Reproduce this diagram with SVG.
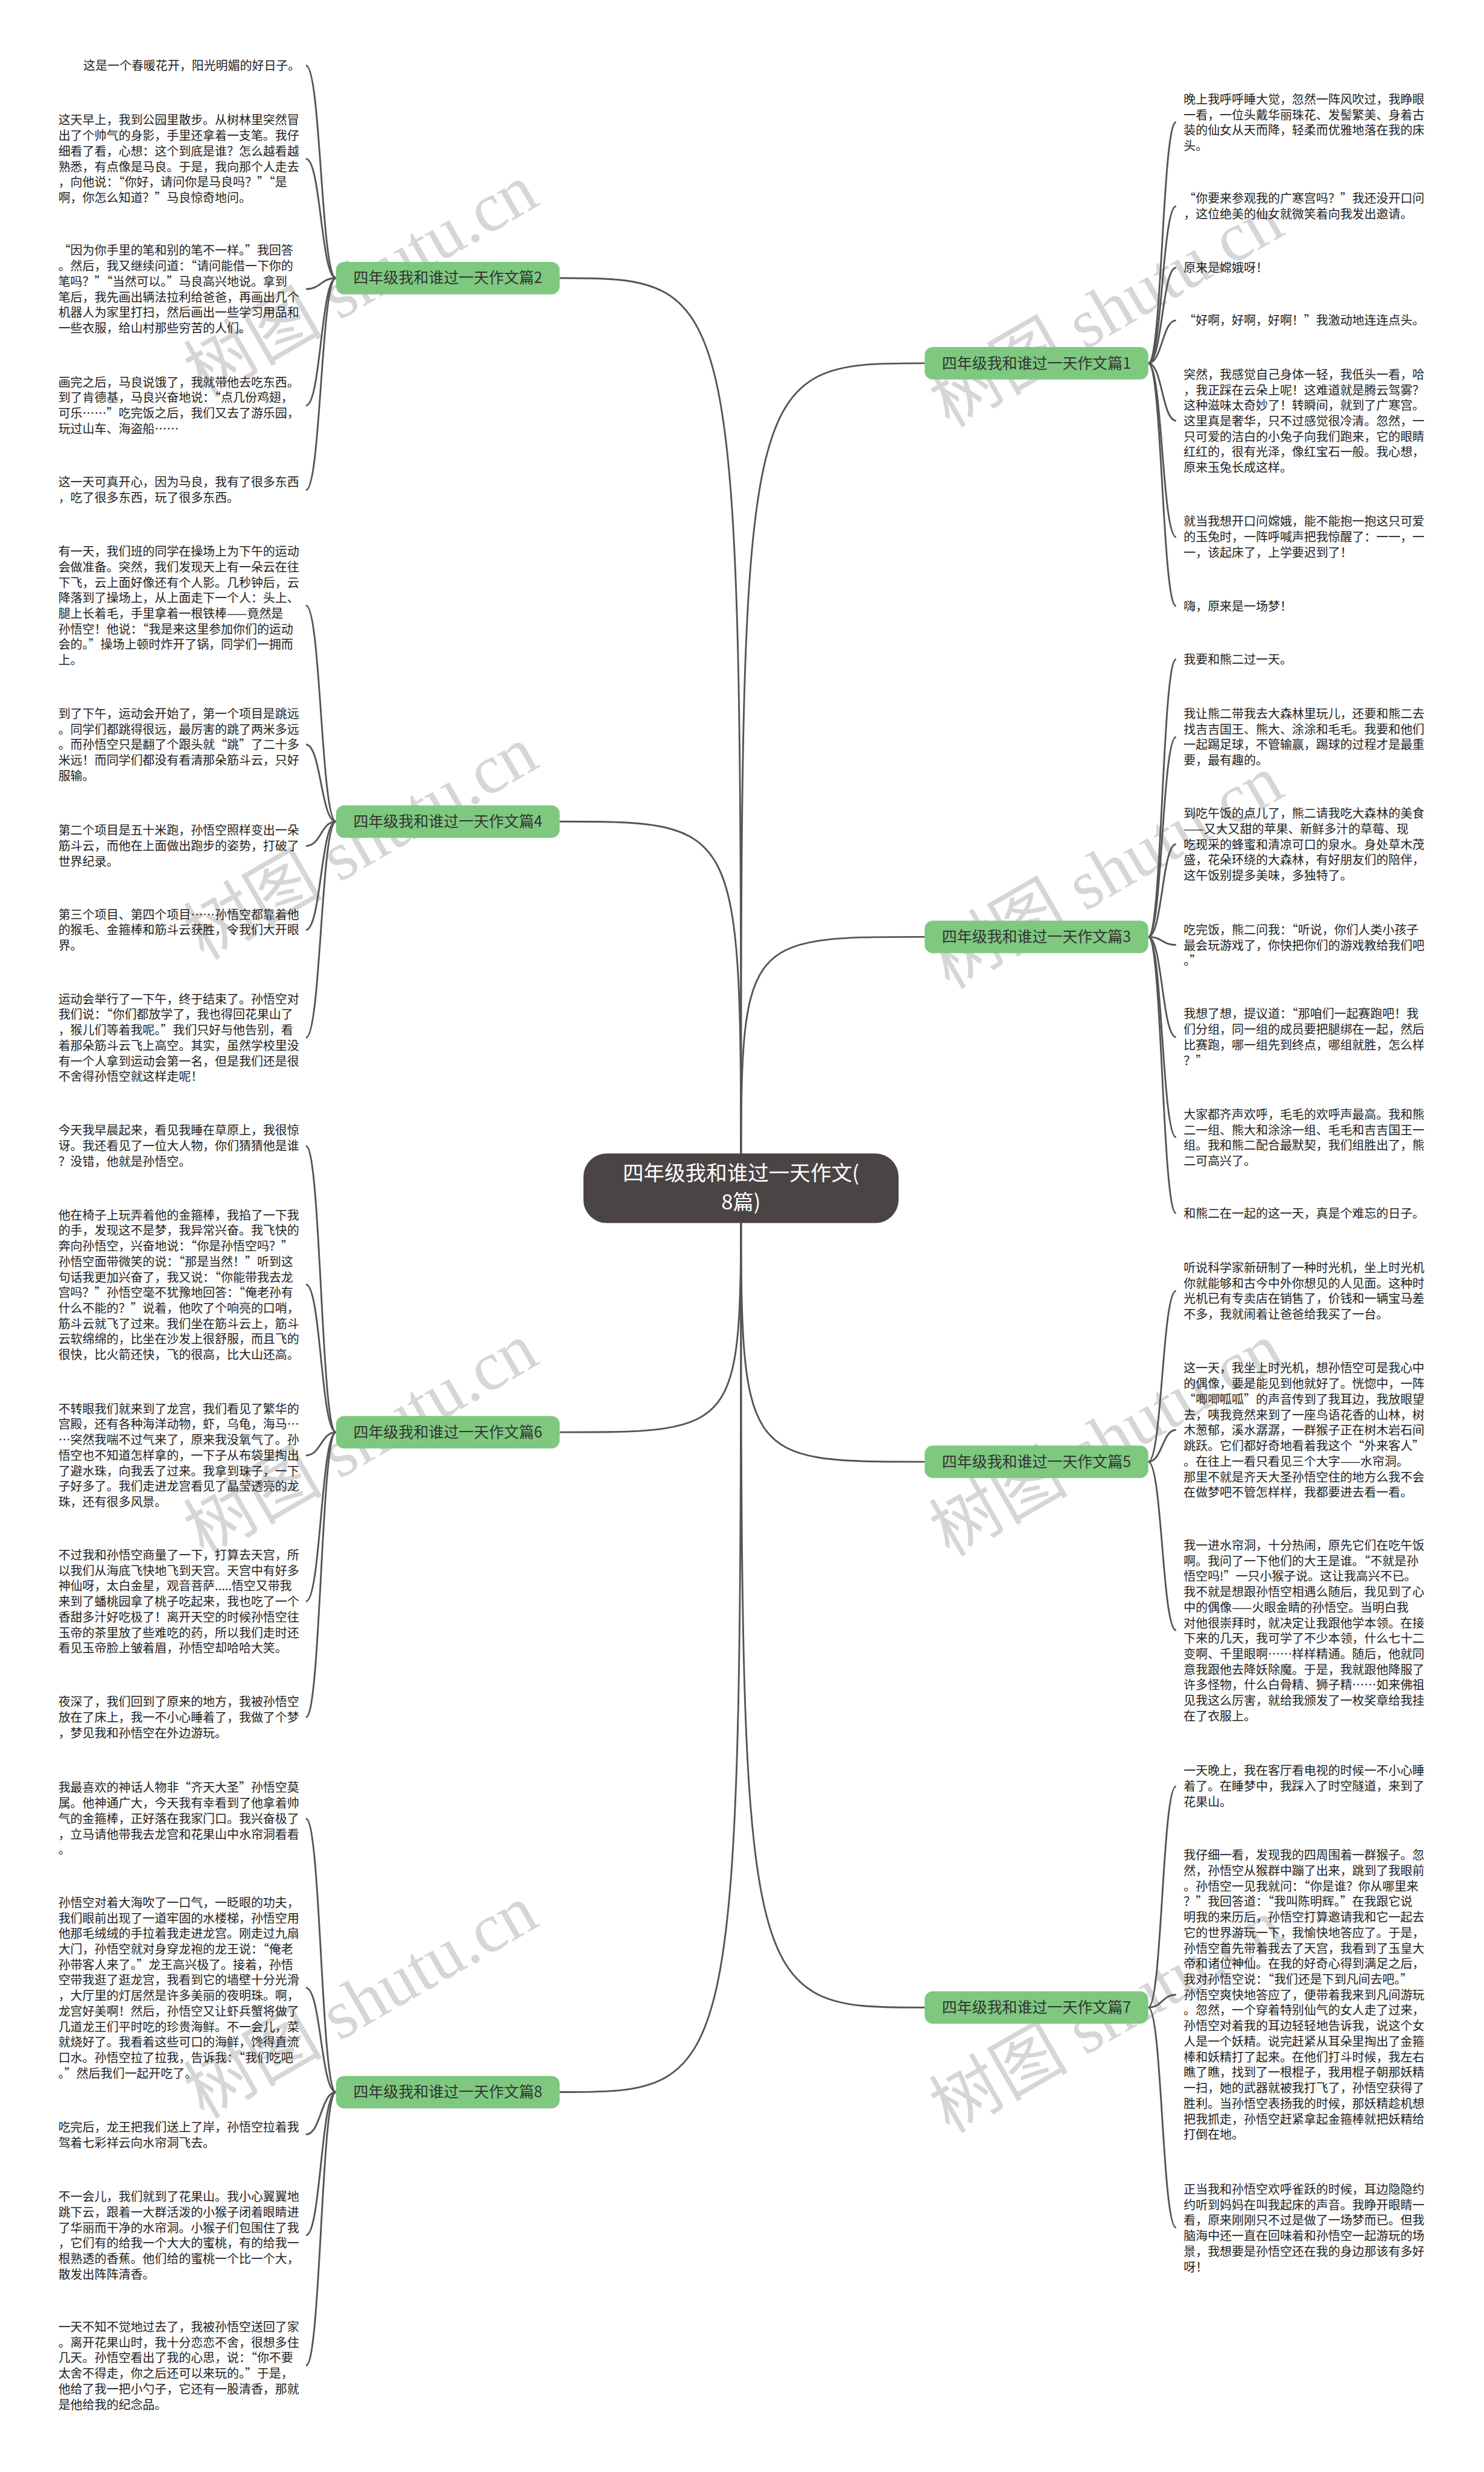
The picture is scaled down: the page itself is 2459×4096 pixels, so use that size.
<svg xmlns="http://www.w3.org/2000/svg" width="2459" height="4096" viewBox="0 0 2459 4096">
<style>
.t{font-family:"Noto Sans CJK SC","Noto Sans",sans-serif;font-size:20.8px;fill:#222}
.c{fill:none;stroke:#555;stroke-width:3}
.nr{fill:#7ec880}
.nt{font-family:"Noto Sans CJK SC","Noto Sans",sans-serif;font-size:26px;fill:#333;text-anchor:middle}
.wm{font-family:"Liberation Serif","Noto Sans CJK SC",serif;font-size:120px;fill:#d6d6d6;text-anchor:middle}
</style>
<rect width="2459" height="4096" fill="#ffffff"/>
<g transform="scale(0.96)">
<g id="watermarks">
<text class="wm" transform="translate(643,520) rotate(-30)">树图 shutu.cn</text>
<text class="wm" transform="translate(643,1490) rotate(-30)">树图 shutu.cn</text>
<text class="wm" transform="translate(643,2520) rotate(-30)">树图 shutu.cn</text>
<text class="wm" transform="translate(643,3490) rotate(-30)">树图 shutu.cn</text>
<text class="wm" transform="translate(1930,571) rotate(-30)">树图 shutu.cn</text>
<text class="wm" transform="translate(1930,1540) rotate(-30)">树图 shutu.cn</text>
<text class="wm" transform="translate(1930,2520) rotate(-30)">树图 shutu.cn</text>
<text class="wm" transform="translate(1930,3515) rotate(-30)">树图 shutu.cn</text>
</g>
<g id="connectors">
<path class="c" d="M966,480 C1279,480 1279,480 1279,2051"/>
<path class="c" d="M966,1418 C1279,1418 1279,1418 1279,2051"/>
<path class="c" d="M966,2472 C1279,2472 1279,2472 1279,2051"/>
<path class="c" d="M966,3611 C1279,3611 1279,3611 1279,2051"/>
<path class="c" d="M1596,627 C1279,627 1279,627 1279,2051"/>
<path class="c" d="M1596,1617 C1279,1617 1279,1617 1279,2051"/>
<path class="c" d="M1596,2523 C1279,2523 1279,2523 1279,2051"/>
<path class="c" d="M1596,3465 C1279,3465 1279,3465 1279,2051"/>
<path class="c" d="M580,480 C554,480 554,113 528,113"/>
<path class="c" d="M580,480 C554,480 554,274 528,274"/>
<path class="c" d="M580,480 C554,480 554,499 528,499"/>
<path class="c" d="M580,480 C554,480 554,700 528,700"/>
<path class="c" d="M580,480 C554,480 554,846 528,846"/>
<path class="c" d="M580,1418 C554,1418 554,1045 528,1045"/>
<path class="c" d="M580,1418 C554,1418 554,1285 528,1285"/>
<path class="c" d="M580,1418 C554,1418 554,1460 528,1460"/>
<path class="c" d="M580,1418 C554,1418 554,1605 528,1605"/>
<path class="c" d="M580,1418 C554,1418 554,1791 528,1791"/>
<path class="c" d="M580,2472 C554,2472 554,1978 528,1978"/>
<path class="c" d="M580,2472 C554,2472 554,2217 528,2217"/>
<path class="c" d="M580,2472 C554,2472 554,2512 528,2512"/>
<path class="c" d="M580,2472 C554,2472 554,2764 528,2764"/>
<path class="c" d="M580,2472 C554,2472 554,2964 528,2964"/>
<path class="c" d="M580,3611 C554,3611 554,3139 528,3139"/>
<path class="c" d="M580,3611 C554,3611 554,3431 528,3431"/>
<path class="c" d="M580,3611 C554,3611 554,3684 528,3684"/>
<path class="c" d="M580,3611 C554,3611 554,3858 528,3858"/>
<path class="c" d="M580,3611 C554,3611 554,4083 528,4083"/>
<path class="c" d="M1982,627 C2006,627 2006,211 2030,211"/>
<path class="c" d="M1982,627 C2006,627 2006,356 2030,356"/>
<path class="c" d="M1982,627 C2006,627 2006,462 2030,462"/>
<path class="c" d="M1982,627 C2006,627 2006,553 2030,553"/>
<path class="c" d="M1982,627 C2006,627 2006,726 2030,726"/>
<path class="c" d="M1982,627 C2006,627 2006,927 2030,927"/>
<path class="c" d="M1982,627 C2006,627 2006,1046 2030,1046"/>
<path class="c" d="M1982,1617 C2006,1617 2006,1138 2030,1138"/>
<path class="c" d="M1982,1617 C2006,1617 2006,1272 2030,1272"/>
<path class="c" d="M1982,1617 C2006,1617 2006,1457 2030,1457"/>
<path class="c" d="M1982,1617 C2006,1617 2006,1631 2030,1631"/>
<path class="c" d="M1982,1617 C2006,1617 2006,1790 2030,1790"/>
<path class="c" d="M1982,1617 C2006,1617 2006,1963 2030,1963"/>
<path class="c" d="M1982,1617 C2006,1617 2006,2094 2030,2094"/>
<path class="c" d="M1982,2523 C2006,2523 2006,2228 2030,2228"/>
<path class="c" d="M1982,2523 C2006,2523 2006,2468 2030,2468"/>
<path class="c" d="M1982,2523 C2006,2523 2006,2814 2030,2814"/>
<path class="c" d="M1982,3465 C2006,3465 2006,3083 2030,3083"/>
<path class="c" d="M1982,3465 C2006,3465 2006,3443 2030,3443"/>
<path class="c" d="M1982,3465 C2006,3465 2006,3845 2030,3845"/>
</g>
<g id="center">
<rect x="1007" y="1991" width="544" height="120" rx="40" fill="#4a4544"/>
<text x="1279" y="2038" font-family="Noto Sans CJK SC, sans-serif" font-size="36" fill="#fff" text-anchor="middle">四年级我和谁过一天作文(</text>
<text x="1279" y="2087" font-family="Noto Sans CJK SC, sans-serif" font-size="36" fill="#fff" text-anchor="middle">8篇)</text>
</g>
<g id="node-p2"><rect class="nr" x="580" y="452" width="386" height="56" rx="14"/><text class="nt" x="773" y="489">四年级我和谁过一天作文篇2</text></g>
<g id="node-p4"><rect class="nr" x="580" y="1390" width="386" height="56" rx="14"/><text class="nt" x="773" y="1427">四年级我和谁过一天作文篇4</text></g>
<g id="node-p6"><rect class="nr" x="580" y="2444" width="386" height="56" rx="14"/><text class="nt" x="773" y="2481">四年级我和谁过一天作文篇6</text></g>
<g id="node-p8"><rect class="nr" x="580" y="3583" width="386" height="56" rx="14"/><text class="nt" x="773" y="3620">四年级我和谁过一天作文篇8</text></g>
<g id="node-p1"><rect class="nr" x="1596" y="599" width="386" height="56" rx="14"/><text class="nt" x="1789" y="636">四年级我和谁过一天作文篇1</text></g>
<g id="node-p3"><rect class="nr" x="1596" y="1589" width="386" height="56" rx="14"/><text class="nt" x="1789" y="1626">四年级我和谁过一天作文篇3</text></g>
<g id="node-p5"><rect class="nr" x="1596" y="2495" width="386" height="56" rx="14"/><text class="nt" x="1789" y="2532">四年级我和谁过一天作文篇5</text></g>
<g id="node-p7"><rect class="nr" x="1596" y="3437" width="386" height="56" rx="14"/><text class="nt" x="1789" y="3474">四年级我和谁过一天作文篇7</text></g>

<g id="left-texts">
<text class="t" x="518" y="121" text-anchor="end">这是一个春暖花开，阳光明媚的好日子。</text>
<text class="t" y="215.1"><tspan x="100.7">这天早上，我到公园里散步。从树林里突然冒</tspan><tspan x="100.7" dy="26.8">出了个帅气的身影，手里还拿着一支笔。我仔</tspan><tspan x="100.7" dy="26.8">细看了看，心想：这个到底是谁？怎么越看越</tspan><tspan x="100.7" dy="26.8">熟悉，有点像是马良。于是，我向那个人走去</tspan><tspan x="100.7" dy="26.8">，向他说：“你好，请问你是马良吗？”“是</tspan><tspan x="100.7" dy="26.8">啊，你怎么知道？”马良惊奇地问。</tspan></text>
<text class="t" y="440.1"><tspan x="100.7">“因为你手里的笔和别的笔不一样。”我回答</tspan><tspan x="100.7" dy="26.8">。然后，我又继续问道：“请问能借一下你的</tspan><tspan x="100.7" dy="26.8">笔吗？”“当然可以。”马良高兴地说。拿到</tspan><tspan x="100.7" dy="26.8">笔后，我先画出辆法拉利给爸爸，再画出几个</tspan><tspan x="100.7" dy="26.8">机器人为家里打扫，然后画出一些学习用品和</tspan><tspan x="100.7" dy="26.8">一些衣服，给山村那些穷苦的人们。</tspan></text>
<text class="t" y="667.3"><tspan x="100.7">画完之后，马良说饿了，我就带他去吃东西。</tspan><tspan x="100.7" dy="26.8">到了肯德基，马良兴奋地说：“点几份鸡翅，</tspan><tspan x="100.7" dy="26.8">可乐……”吃完饭之后，我们又去了游乐园，</tspan><tspan x="100.7" dy="26.8">玩过山车、海盗船……</tspan></text>
<text class="t" y="840.1"><tspan x="100.7">这一天可真开心，因为马良，我有了很多东西</tspan><tspan x="100.7" dy="26.8">，吃了很多东西，玩了很多东西。</tspan></text>
<text class="t" y="959.5"><tspan x="100.7">有一天，我们班的同学在操场上为下午的运动</tspan><tspan x="100.7" dy="26.8">会做准备。突然，我们发现天上有一朵云在往</tspan><tspan x="100.7" dy="26.8">下飞，云上面好像还有个人影。几秒钟后，云</tspan><tspan x="100.7" dy="26.8">降落到了操场上，从上面走下一个人：头上、</tspan><tspan x="100.7" dy="26.8">腿上长着毛，手里拿着一根铁棒——竟然是</tspan><tspan x="100.7" dy="26.8">孙悟空！他说：“我是来这里参加你们的运动</tspan><tspan x="100.7" dy="26.8">会的。”操场上顿时炸开了锅，同学们一拥而</tspan><tspan x="100.7" dy="26.8">上。</tspan></text>
<text class="t" y="1239.6"><tspan x="100.7">到了下午，运动会开始了，第一个项目是跳远</tspan><tspan x="100.7" dy="26.8">。同学们都跳得很远，最厉害的跳了两米多远</tspan><tspan x="100.7" dy="26.8">。而孙悟空只是翻了个跟头就“跳”了二十多</tspan><tspan x="100.7" dy="26.8">米远！而同学们都没有看清那朵筋斗云，只好</tspan><tspan x="100.7" dy="26.8">服输。</tspan></text>
<text class="t" y="1440.7"><tspan x="100.7">第二个项目是五十米跑，孙悟空照样变出一朵</tspan><tspan x="100.7" dy="26.8">筋斗云，而他在上面做出跑步的姿势，打破了</tspan><tspan x="100.7" dy="26.8">世界纪录。</tspan></text>
<text class="t" y="1586"><tspan x="100.7">第三个项目、第四个项目……孙悟空都靠着他</tspan><tspan x="100.7" dy="26.8">的猴毛、金箍棒和筋斗云获胜，令我们大开眼</tspan><tspan x="100.7" dy="26.8">界。</tspan></text>
<text class="t" y="1732"><tspan x="100.7">运动会举行了一下午，终于结束了。孙悟空对</tspan><tspan x="100.7" dy="26.8">我们说：“你们都放学了，我也得回花果山了</tspan><tspan x="100.7" dy="26.8">，猴儿们等着我呢。”我们只好与他告别，看</tspan><tspan x="100.7" dy="26.8">着那朵筋斗云飞上高空。其实，虽然学校里没</tspan><tspan x="100.7" dy="26.8">有一个人拿到运动会第一名，但是我们还是很</tspan><tspan x="100.7" dy="26.8">不舍得孙悟空就这样走呢！</tspan></text>
<text class="t" y="1958.8"><tspan x="100.7">今天我早晨起来，看见我睡在草原上，我很惊</tspan><tspan x="100.7" dy="26.8">讶。我还看见了一位大人物，你们猜猜他是谁</tspan><tspan x="100.7" dy="26.8">？没错，他就是孙悟空。</tspan></text>
<text class="t" y="2104.8"><tspan x="100.7">他在椅子上玩弄着他的金箍棒，我掐了一下我</tspan><tspan x="100.7" dy="26.8">的手，发现这不是梦，我异常兴奋。我飞快的</tspan><tspan x="100.7" dy="26.8">奔向孙悟空，兴奋地说：“你是孙悟空吗？”</tspan><tspan x="100.7" dy="26.8">孙悟空面带微笑的说：“那是当然！”听到这</tspan><tspan x="100.7" dy="26.8">句话我更加兴奋了，我又说：“你能带我去龙</tspan><tspan x="100.7" dy="26.8">宫吗？”孙悟空毫不犹豫地回答：“俺老孙有</tspan><tspan x="100.7" dy="26.8">什么不能的？”说着，他吹了个响亮的口哨，</tspan><tspan x="100.7" dy="26.8">筋斗云就飞了过来。我们坐在筋斗云上，筋斗</tspan><tspan x="100.7" dy="26.8">云软绵绵的，比坐在沙发上很舒服，而且飞的</tspan><tspan x="100.7" dy="26.8">很快，比火箭还快，飞的很高，比大山还高。</tspan></text>
<text class="t" y="2439.2"><tspan x="100.7">不转眼我们就来到了龙宫，我们看见了繁华的</tspan><tspan x="100.7" dy="26.8">宫殿，还有各种海洋动物，虾，乌龟，海马…</tspan><tspan x="100.7" dy="26.8">…突然我喘不过气来了，原来我没氧气了。孙</tspan><tspan x="100.7" dy="26.8">悟空也不知道怎样拿的，一下子从布袋里掏出</tspan><tspan x="100.7" dy="26.8">了避水珠，向我丢了过来。我拿到珠子，一下</tspan><tspan x="100.7" dy="26.8">子好多了。我们走进龙宫看见了晶莹透亮的龙</tspan><tspan x="100.7" dy="26.8">珠，还有很多风景。</tspan></text>
<text class="t" y="2691.7"><tspan x="100.7">不过我和孙悟空商量了一下，打算去天宫，所</tspan><tspan x="100.7" dy="26.8">以我们从海底飞快地飞到天宫。天宫中有好多</tspan><tspan x="100.7" dy="26.8">神仙呀，太白金星，观音菩萨.....悟空又带我</tspan><tspan x="100.7" dy="26.8">来到了蟠桃园拿了桃子吃起来，我也吃了一个</tspan><tspan x="100.7" dy="26.8">香甜多汁好吃极了！离开天空的时候孙悟空往</tspan><tspan x="100.7" dy="26.8">玉帝的茶里放了些难吃的药，所以我们走时还</tspan><tspan x="100.7" dy="26.8">看见玉帝脸上皱着眉，孙悟空却哈哈大笑。</tspan></text>
<text class="t" y="2945"><tspan x="100.7">夜深了，我们回到了原来的地方，我被孙悟空</tspan><tspan x="100.7" dy="26.8">放在了床上，我一不小心睡着了，我做了个梦</tspan><tspan x="100.7" dy="26.8">，梦见我和孙悟空在外边游玩。</tspan></text>
<text class="t" y="3093.2"><tspan x="100.7">我最喜欢的神话人物非“齐天大圣”孙悟空莫</tspan><tspan x="100.7" dy="26.8">属。他神通广大，今天我有幸看到了他拿着帅</tspan><tspan x="100.7" dy="26.8">气的金箍棒，正好落在我家门口。我兴奋极了</tspan><tspan x="100.7" dy="26.8">，立马请他带我去龙宫和花果山中水帘洞看看</tspan><tspan x="100.7" dy="26.8">。</tspan></text>
<text class="t" y="3291.5"><tspan x="100.7">孙悟空对着大海吹了一口气，一眨眼的功夫，</tspan><tspan x="100.7" dy="26.8">我们眼前出现了一道牢固的水楼梯，孙悟空用</tspan><tspan x="100.7" dy="26.8">他那毛绒绒的手拉着我走进龙宫。刚走过九扇</tspan><tspan x="100.7" dy="26.8">大门，孙悟空就对身穿龙袍的龙王说：“俺老</tspan><tspan x="100.7" dy="26.8">孙带客人来了。”龙王高兴极了。接着，孙悟</tspan><tspan x="100.7" dy="26.8">空带我逛了逛龙宫，我看到它的墙壁十分光滑</tspan><tspan x="100.7" dy="26.8">，大厅里的灯居然是许多美丽的夜明珠。啊，</tspan><tspan x="100.7" dy="26.8">龙宫好美啊！然后，孙悟空又让虾兵蟹将做了</tspan><tspan x="100.7" dy="26.8">几道龙王们平时吃的珍贵海鲜。不一会儿，菜</tspan><tspan x="100.7" dy="26.8">就烧好了。我看着这些可口的海鲜，馋得直流</tspan><tspan x="100.7" dy="26.8">口水。孙悟空拉了拉我，告诉我：“我们吃吧</tspan><tspan x="100.7" dy="26.8">。”然后我们一起开吃了。</tspan></text>
<text class="t" y="3679"><tspan x="100.7">吃完后，龙王把我们送上了岸，孙悟空拉着我</tspan><tspan x="100.7" dy="26.8">驾着七彩祥云向水帘洞飞去。</tspan></text>
<text class="t" y="3799.2"><tspan x="100.7">不一会儿，我们就到了花果山。我小心翼翼地</tspan><tspan x="100.7" dy="26.8">跳下云，跟着一大群活泼的小猴子闭着眼睛进</tspan><tspan x="100.7" dy="26.8">了华丽而干净的水帘洞。小猴子们包围住了我</tspan><tspan x="100.7" dy="26.8">，它们有的给我一个大大的蜜桃，有的给我一</tspan><tspan x="100.7" dy="26.8">根熟透的香蕉。他们给的蜜桃一个比一个大，</tspan><tspan x="100.7" dy="26.8">散发出阵阵清香。</tspan></text>
<text class="t" y="4024"><tspan x="100.7">一天不知不觉地过去了，我被孙悟空送回了家</tspan><tspan x="100.7" dy="26.8">。离开花果山时，我十分恋恋不舍，很想多住</tspan><tspan x="100.7" dy="26.8">几天。孙悟空看出了我的心思，说：“你不要</tspan><tspan x="100.7" dy="26.8">太舍不得走，你之后还可以来玩的。”于是，</tspan><tspan x="100.7" dy="26.8">他给了我一把小勺子，它还有一股清香，那就</tspan><tspan x="100.7" dy="26.8">是他给我的纪念品。</tspan></text>
</g>

<g id="right-texts">
<text class="t" y="179.2"><tspan x="2043">晚上我呼呼睡大觉，忽然一阵风吹过，我睁眼</tspan><tspan x="2043" dy="26.8">一看，一位头戴华丽珠花、发髻繁美、身着古</tspan><tspan x="2043" dy="26.8">装的仙女从天而降，轻柔而优雅地落在我的床</tspan><tspan x="2043" dy="26.8">头。</tspan></text>
<text class="t" y="350.5"><tspan x="2043">“你要来参观我的广寒宫吗？”我还没开口问</tspan><tspan x="2043" dy="26.8">，这位绝美的仙女就微笑着向我发出邀请。</tspan></text>
<text class="t" x="2043" y="469.7">原来是嫦娥呀！</text>
<text class="t" x="2043" y="560.8">“好啊，好啊，好啊！”我激动地连连点头。</text>
<text class="t" y="654"><tspan x="2043">突然，我感觉自己身体一轻，我低头一看，哈</tspan><tspan x="2043" dy="26.8">，我正踩在云朵上呢！这难道就是腾云驾雾？</tspan><tspan x="2043" dy="26.8">这种滋味太奇妙了！转瞬间，就到了广寒宫。</tspan><tspan x="2043" dy="26.8">这里真是奢华，只不过感觉很冷清。忽然，一</tspan><tspan x="2043" dy="26.8">只可爱的洁白的小兔子向我们跑来，它的眼睛</tspan><tspan x="2043" dy="26.8">红红的，很有光泽，像红宝石一般。我心想，</tspan><tspan x="2043" dy="26.8">原来玉兔长成这样。</tspan></text>
<text class="t" y="907.7"><tspan x="2043">就当我想开口问嫦娥，能不能抱一抱这只可爱</tspan><tspan x="2043" dy="26.8">的玉兔时，一阵呼喊声把我惊醒了：一一，一</tspan><tspan x="2043" dy="26.8">一，该起床了，上学要迟到了！</tspan></text>
<text class="t" x="2043" y="1054.3">嗨，原来是一场梦！</text>
<text class="t" x="2043" y="1146.2">我要和熊二过一天。</text>
<text class="t" y="1239.5"><tspan x="2043">我让熊二带我去大森林里玩儿，还要和熊二去</tspan><tspan x="2043" dy="26.8">找吉吉国王、熊大、涂涂和毛毛。我要和他们</tspan><tspan x="2043" dy="26.8">一起踢足球，不管输赢，踢球的过程才是最重</tspan><tspan x="2043" dy="26.8">要，最有趣的。</tspan></text>
<text class="t" y="1411.6"><tspan x="2043">到吃午饭的点儿了，熊二请我吃大森林的美食</tspan><tspan x="2043" dy="26.8">——又大又甜的苹果、新鲜多汁的草莓、现</tspan><tspan x="2043" dy="26.8">吃现采的蜂蜜和清凉可口的泉水。身处草木茂</tspan><tspan x="2043" dy="26.8">盛，花朵环绕的大森林，有好朋友们的陪伴，</tspan><tspan x="2043" dy="26.8">这午饭别提多美味，多独特了。</tspan></text>
<text class="t" y="1612.4"><tspan x="2043">吃完饭，熊二问我：“听说，你们人类小孩子</tspan><tspan x="2043" dy="26.8">最会玩游戏了，你快把你们的游戏教给我们吧</tspan><tspan x="2043" dy="26.8">。”</tspan></text>
<text class="t" y="1757.7"><tspan x="2043">我想了想，提议道：“那咱们一起赛跑吧！我</tspan><tspan x="2043" dy="26.8">们分组，同一组的成员要把腿绑在一起，然后</tspan><tspan x="2043" dy="26.8">比赛跑，哪一组先到终点，哪组就胜，怎么样</tspan><tspan x="2043" dy="26.8">？”</tspan></text>
<text class="t" y="1931.2"><tspan x="2043">大家都齐声欢呼，毛毛的欢呼声最高。我和熊</tspan><tspan x="2043" dy="26.8">二一组、熊大和涂涂一组、毛毛和吉吉国王一</tspan><tspan x="2043" dy="26.8">组。我和熊二配合最默契，我们组胜出了，熊</tspan><tspan x="2043" dy="26.8">二可高兴了。</tspan></text>
<text class="t" x="2043" y="2102.5">和熊二在一起的这一天，真是个难忘的日子。</text>
<text class="t" y="2195.7"><tspan x="2043">听说科学家新研制了一种时光机，坐上时光机</tspan><tspan x="2043" dy="26.8">你就能够和古今中外你想见的人见面。这种时</tspan><tspan x="2043" dy="26.8">光机已有专卖店在销售了，价钱和一辆宝马差</tspan><tspan x="2043" dy="26.8">不多，我就闹着让爸爸给我买了一台。</tspan></text>
<text class="t" y="2369.2"><tspan x="2043">这一天，我坐上时光机，想孙悟空可是我心中</tspan><tspan x="2043" dy="26.8">的偶像，要是能见到他就好了。恍惚中，一阵</tspan><tspan x="2043" dy="26.8">“唧唧呱呱”的声音传到了我耳边，我放眼望</tspan><tspan x="2043" dy="26.8">去，咦我竟然来到了一座鸟语花香的山林，树</tspan><tspan x="2043" dy="26.8">木葱郁，溪水潺潺，一群猴子正在树木岩石间</tspan><tspan x="2043" dy="26.8">跳跃。它们都好奇地看着我这个“外来客人”</tspan><tspan x="2043" dy="26.8">。在往上一看只看见三个大字——水帘洞。</tspan><tspan x="2043" dy="26.8">那里不就是齐天大圣孙悟空住的地方么我不会</tspan><tspan x="2043" dy="26.8">在做梦吧不管怎样样，我都要进去看一看。</tspan></text>
<text class="t" y="2674.9"><tspan x="2043">我一进水帘洞，十分热闹，原先它们在吃午饭</tspan><tspan x="2043" dy="26.8">啊。我问了一下他们的大王是谁。“不就是孙</tspan><tspan x="2043" dy="26.8">悟空吗!”一只小猴子说。这让我高兴不已。</tspan><tspan x="2043" dy="26.8">我不就是想跟孙悟空相遇么随后，我见到了心</tspan><tspan x="2043" dy="26.8">中的偶像——火眼金睛的孙悟空。当明白我</tspan><tspan x="2043" dy="26.8">对他很崇拜时，就决定让我跟他学本领。在接</tspan><tspan x="2043" dy="26.8">下来的几天，我可学了不少本领，什么七十二</tspan><tspan x="2043" dy="26.8">变啊、千里眼啊……样样精通。随后，他就同</tspan><tspan x="2043" dy="26.8">意我跟他去降妖除魔。于是，我就跟他降服了</tspan><tspan x="2043" dy="26.8">许多怪物，什么白骨精、狮子精……如来佛祖</tspan><tspan x="2043" dy="26.8">见我这么厉害，就给我颁发了一枚奖章给我挂</tspan><tspan x="2043" dy="26.8">在了衣服上。</tspan></text>
<text class="t" y="3063.9"><tspan x="2043">一天晚上，我在客厅看电视的时候一不小心睡</tspan><tspan x="2043" dy="26.8">着了。在睡梦中，我踩入了时空隧道，来到了</tspan><tspan x="2043" dy="26.8">花果山。</tspan></text>
<text class="t" y="3209.6"><tspan x="2043">我仔细一看，发现我的四周围着一群猴子。忽</tspan><tspan x="2043" dy="26.8">然，孙悟空从猴群中蹦了出来，跳到了我眼前</tspan><tspan x="2043" dy="26.8">。孙悟空一见我就问：“你是谁？你从哪里来</tspan><tspan x="2043" dy="26.8">？”我回答道：“我叫陈明辉。”在我跟它说</tspan><tspan x="2043" dy="26.8">明我的来历后，孙悟空打算邀请我和它一起去</tspan><tspan x="2043" dy="26.8">它的世界游玩一下，我愉快地答应了。于是，</tspan><tspan x="2043" dy="26.8">孙悟空首先带着我去了天宫，我看到了玉皇大</tspan><tspan x="2043" dy="26.8">帝和诸位神仙。在我的好奇心得到满足之后，</tspan><tspan x="2043" dy="26.8">我对孙悟空说：“我们还是下到凡间去吧。”</tspan><tspan x="2043" dy="26.8">孙悟空爽快地答应了，便带着我来到凡间游玩</tspan><tspan x="2043" dy="26.8">。忽然，一个穿着特别仙气的女人走了过来，</tspan><tspan x="2043" dy="26.8">孙悟空对着我的耳边轻轻地告诉我，说这个女</tspan><tspan x="2043" dy="26.8">人是一个妖精。说完赶紧从耳朵里掏出了金箍</tspan><tspan x="2043" dy="26.8">棒和妖精打了起来。在他们打斗时候，我左右</tspan><tspan x="2043" dy="26.8">瞧了瞧，找到了一根棍子，我用棍子朝那妖精</tspan><tspan x="2043" dy="26.8">一扫，她的武器就被我打飞了，孙悟空获得了</tspan><tspan x="2043" dy="26.8">胜利。当孙悟空表扬我的时候，那妖精趁机想</tspan><tspan x="2043" dy="26.8">把我抓走，孙悟空赶紧拿起金箍棒就把妖精给</tspan><tspan x="2043" dy="26.8">打倒在地。</tspan></text>
<text class="t" y="3786.5"><tspan x="2043">正当我和孙悟空欢呼雀跃的时候，耳边隐隐约</tspan><tspan x="2043" dy="26.8">约听到妈妈在叫我起床的声音。我睁开眼睛一</tspan><tspan x="2043" dy="26.8">看，原来刚刚只不过是做了一场梦而已。但我</tspan><tspan x="2043" dy="26.8">脑海中还一直在回味着和孙悟空一起游玩的场</tspan><tspan x="2043" dy="26.8">景，我想要是孙悟空还在我的身边那该有多好</tspan><tspan x="2043" dy="26.8">呀！</tspan></text>
</g>
</g>
</svg>
